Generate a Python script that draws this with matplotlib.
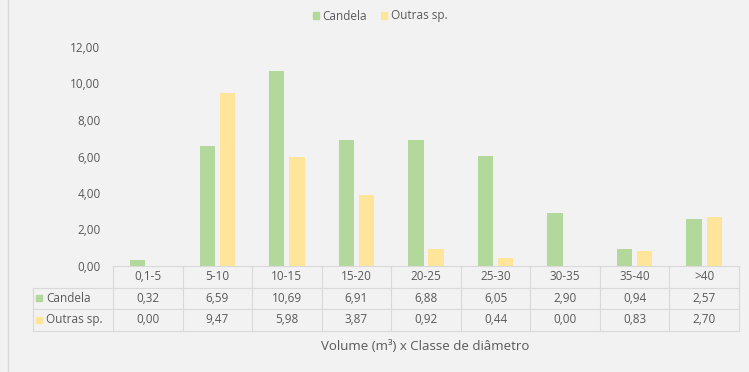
import matplotlib.pyplot as plt
import matplotlib.transforms as mtransforms
from matplotlib.patches import Patch
from matplotlib.lines import Line2D
import numpy as np

classes = ["0,1-5", "5-10", "10-15", "15-20", "20-25", "25-30", "30-35", "35-40", ">40"]
candela = [0.32, 6.59, 10.69, 6.91, 6.88, 6.05, 2.90, 0.94, 2.57]
outras = [0.00, 9.47, 5.98, 3.87, 0.92, 0.44, 0.00, 0.83, 2.70]
series_names = ["Candela", "Outras sp."]
y_ticks = [0, 2, 4, 6, 8, 10, 12]

green = "#b3d89b"
yellow = "#fee59a"
txt = "#595959"
grid = "#d9d9d9"
bg = "#f2f2f2"

plt.rcParams["font.family"] = ["Open Sans", "DejaVu Sans"]

W, H = 749, 372
fig = plt.figure(figsize=(W / 100, H / 100), dpi=100, facecolor=bg)

# plot area in pixels: left 113, right 739, top 47, bottom 266
left, right, top, bottom = 113, 739, 47, 266
ax = fig.add_axes([left / W, 1 - bottom / H, (right - left) / W, (bottom - top) / H])
ax.set_facecolor(bg)

x = np.arange(len(classes))
bw = 0.22
off = 0.145
ax.bar(x - off, candela, bw, color=green)
ax.bar(x + off, outras, bw, color=yellow)

ax.set_xlim(-0.5, len(classes) - 0.5)
ax.set_ylim(0, 12)
ax.set_yticks(y_ticks)
ax.set_yticklabels([f"{v:.2f}".replace(".", ",") for v in y_ticks], fontsize=8.5, color=txt)
ax.tick_params(axis="y", length=0, pad=9)
ax.set_xticks([])
for s in ax.spines.values():
    s.set_visible(False)

# data table under the bars
row_h = 21.5 / (bottom - top)
trans = mtransforms.blended_transform_factory(ax.transData, ax.transAxes)
lbl_left = -0.5 - 80 / ((right - left) / len(classes))
n = len(classes)
lkw = dict(color=grid, lw=0.8, transform=trans, clip_on=False)

# horizontal lines
ax.add_line(Line2D([-0.5, n - 0.5], [0, 0], **lkw))
for r in (1, 2, 3):
    ax.add_line(Line2D([lbl_left, n - 0.5], [-r * row_h] * 2, **lkw))
# vertical lines
for i in range(n + 1):
    ax.add_line(Line2D([i - 0.5, i - 0.5], [0, -3 * row_h], **lkw))
ax.add_line(Line2D([lbl_left, lbl_left], [-row_h, -3 * row_h], **lkw))

tkw = dict(transform=trans, fontsize=8.5, color=txt, ha="center", va="center", clip_on=False)
for i, c in enumerate(classes):
    ax.text(i, -0.5 * row_h, c, **tkw)
    ax.text(i, -1.5 * row_h, f"{candela[i]:.2f}".replace(".", ","), **tkw)
    ax.text(i, -2.5 * row_h, f"{outras[i]:.2f}".replace(".", ","), **tkw)

for r, (name, col) in enumerate(zip(series_names, [green, yellow])):
    yc = -(1.5 + r) * row_h
    ax.plot([lbl_left + 0.08], [yc], marker="s", ms=4, color=col, transform=trans, clip_on=False)
    ax.text(lbl_left + 0.19, yc, name, transform=trans, fontsize=8.5, color=txt,
            ha="left", va="center", clip_on=False)

fig.text(425 / W, 1 - 346 / H, "Volume (m³) x Classe de diâmetro", fontsize=9.5,
         color=txt, ha="center", va="center")

handles = [Patch(color=green, label=series_names[0]), Patch(color=yellow, label=series_names[1])]
fig.legend(handles=handles, loc="center", bbox_to_anchor=(380 / W, 1 - 16 / H), ncol=2,
           frameon=False, fontsize=8.5, labelcolor=txt, handlelength=0.5, handleheight=0.5,
           handletextpad=0.3, columnspacing=1.2)

# chart border on the left
fig.add_artist(Line2D([8 / W, 8 / W], [0, 1], color=grid, lw=1, transform=fig.transFigure))

fig.savefig("out.png", dpi=100, facecolor=bg)
